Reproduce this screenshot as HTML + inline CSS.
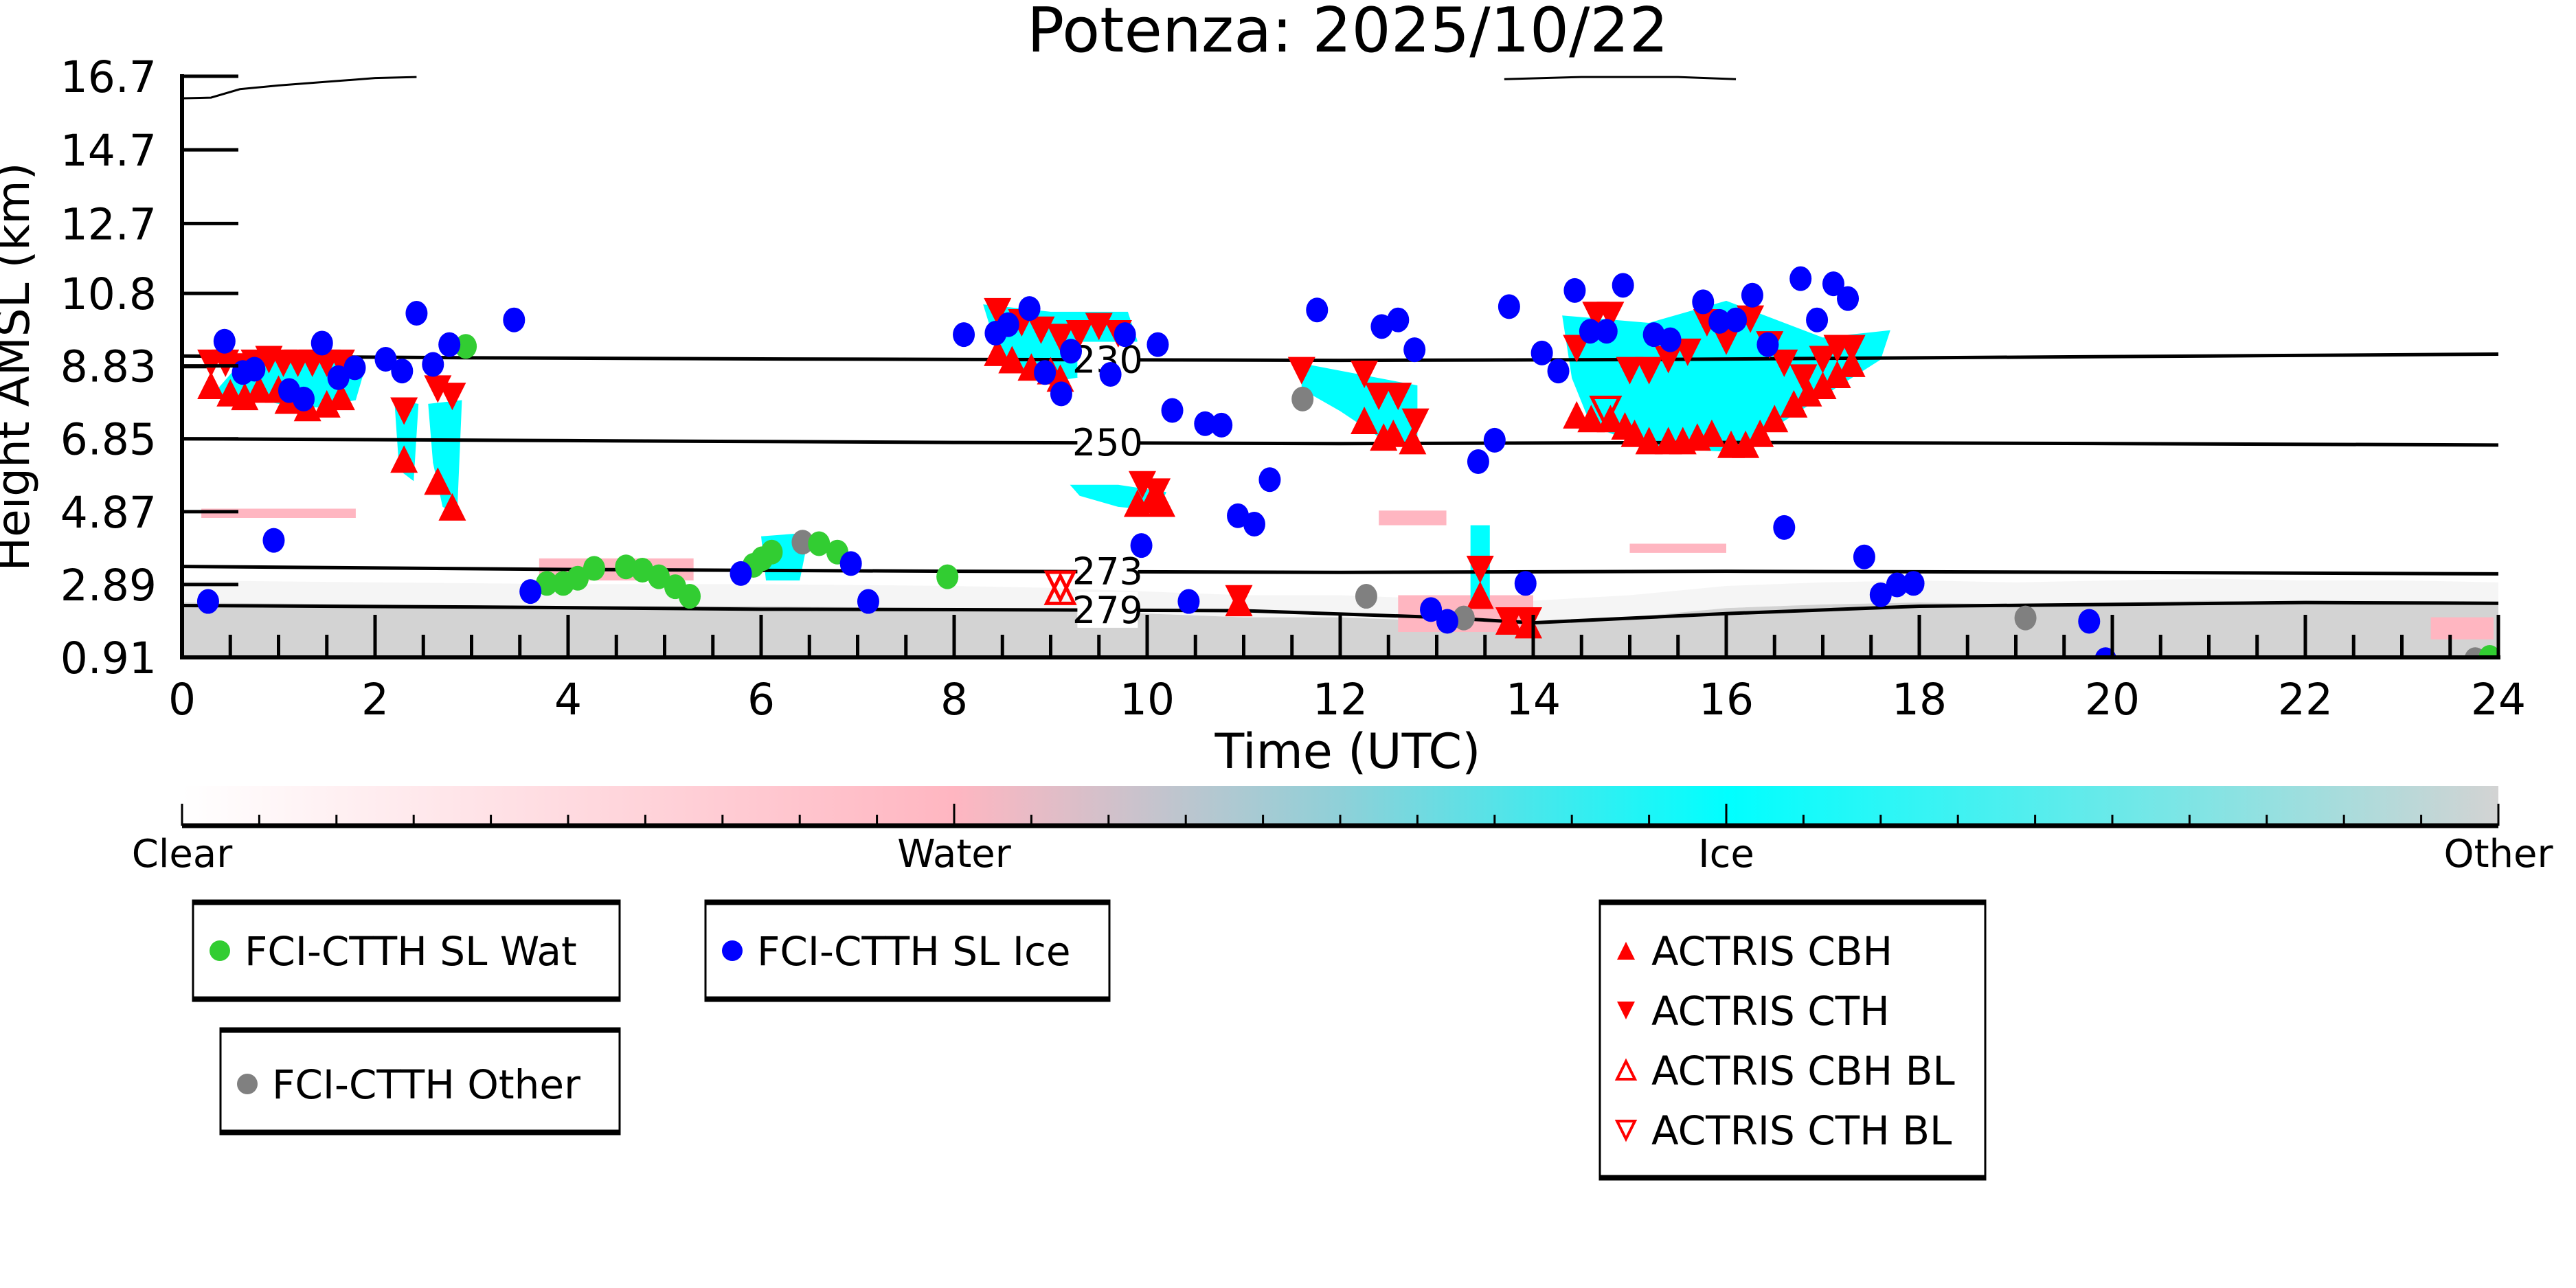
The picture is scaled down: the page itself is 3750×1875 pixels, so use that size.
<!DOCTYPE html>
<html><head><meta charset="utf-8"><style>
html,body{margin:0;padding:0;background:#fff;}
svg{display:block;font-family:"DejaVu Sans","Liberation Sans",sans-serif;}
</style></head><body>
<svg id="chart" width="3750" height="1875" viewBox="0 0 3750 1875" xmlns="http://www.w3.org/2000/svg">
<text x="1962" y="75" font-size="90" text-anchor="middle">Potenza: 2025/10/22</text>
<g id="plot"></g>
<g id="axes"></g>
<text x="1962" y="1118" font-size="70" text-anchor="middle">Time (UTC)</text>
<text x="0" y="0" font-size="66" text-anchor="middle" transform="translate(42,534) rotate(-90)">Height AMSL (km)</text>
<g id="cbar"></g>
<g id="legends"></g>
</svg>
<script>
// ---- data ----
const yTicks = [0.91, 2.89, 4.87, 6.85, 8.83, 10.8, 12.7, 14.7, 16.7];
const xTicks = [0, 2, 4, 6, 8, 10, 12, 14, 16, 18, 20, 22, 24];
const iceH = [0.27,0.44,0.63,0.75,1.11,1.26,1.45,1.62,1.79,2.11,2.28,2.43,2.60,2.77,3.44,3.61,0.95,5.79,7.11,6.93,8.10,8.43,8.56,8.78,8.94,9.11,9.21,9.62,9.77,9.94,10.11,10.26,10.43,10.60,10.77,10.94,11.11,11.27,11.76,12.43,12.60,12.77,12.94,13.11,13.60,13.43,13.75,13.92,14.09,14.26,14.43,14.59,14.76,14.93,15.25,15.42,15.76,15.93,16.10,16.27,16.43,16.60,16.77,16.94,17.11,17.26,17.43,17.60,17.77,17.94,19.76,19.93];
const iceKm = [2.43,9.50,8.65,8.74,8.16,7.93,9.45,8.51,8.78,9.01,8.69,10.26,8.87,9.41,10.08,2.70,4.09,3.19,2.43,3.46,9.68,9.72,9.95,10.39,8.65,8.07,9.23,8.60,9.68,3.95,9.41,7.62,2.43,7.26,7.22,4.76,4.53,5.74,10.35,9.90,10.08,9.27,2.21,1.89,6.81,6.23,10.44,2.92,9.18,8.69,10.88,9.77,9.77,11.02,9.68,9.54,10.57,10.04,10.08,10.75,9.41,4.44,11.20,10.08,11.06,10.66,3.64,2.61,2.88,2.92,1.89,0.85];
const watH = [2.94,3.78,3.95,4.10,4.27,4.60,4.77,4.94,5.11,5.26,5.92,6.01,6.11,6.60,6.79,7.93,23.91];
const watKm = [9.36,2.92,2.92,3.06,3.33,3.37,3.28,3.10,2.83,2.57,3.41,3.59,3.77,4.00,3.77,3.10,0.91];
const othH = [6.43,11.61,12.27,13.28,19.10,23.76];
const othKm = [4.04,7.93,2.57,1.98,1.98,0.85];
const cthH = [0.3,0.45,0.6,0.75,0.9,1.05,1.2,1.35,1.5,1.65,2.3,2.65,2.8,8.45,8.7,8.9,9.1,9.3,9.5,9.7,9.95,10.1,10.95,11.6,12.25,12.4,12.6,12.78,13.45,13.75,13.95,14.45,14.65,14.8,15.0,15.2,15.4,15.6,15.8,16.0,16.25,16.45,16.6,16.8,17.0,17.15,17.3];
const cthKm = [8.9,8.9,8.8,8.9,9.0,8.9,8.9,8.9,8.9,8.9,7.6,8.2,8.0,10.3,10.0,9.8,9.6,9.7,9.9,9.7,5.6,5.4,2.5,8.7,8.6,8.0,8.0,7.3,3.3,1.9,1.9,9.3,10.2,10.2,8.7,8.7,9.0,9.2,10.0,9.5,10.1,9.4,8.9,8.5,9.0,9.3,9.3];
const cbhH = [0.3,0.5,0.65,0.8,1.0,1.1,1.3,1.5,1.65,2.3,2.65,2.8,8.45,8.6,8.8,9.0,9.1,9.9,10.05,10.15,10.95,12.25,12.45,12.55,12.75,13.45,13.75,13.95,14.45,14.6,14.8,14.95,15.05,15.2,15.4,15.55,15.7,15.85,16.05,16.2,16.35,16.5,16.7,16.85,17.0,17.15,17.3];
const cbhKm = [8.3,8.1,8.0,8.2,8.2,7.9,7.7,7.8,8.0,6.3,5.7,5.0,9.2,9.0,8.8,8.7,8.5,5.1,5.2,5.1,2.4,7.35,6.9,7.0,6.8,2.6,1.9,1.8,7.5,7.4,7.4,7.2,7.0,6.8,6.8,6.8,6.9,7.0,6.7,6.7,7.0,7.4,7.8,8.1,8.3,8.6,8.9];
const cbhBlH = [9.1]; const cbhBlKm = [2.75];
const cthBlH = [9.1,14.75]; const cthBlKm = [2.85,7.6];
const c230H = [0,3,6,9,12,15,18,21,24]; const c230Km = [9.10,9.05,9.02,9.0,8.98,9.0,9.05,9.1,9.15];
const c250H = [0,4,8,12,16,20,24]; const c250Km = [6.85,6.8,6.75,6.72,6.75,6.72,6.68];
const c273H = [0,4,8,12,16,20,24]; const c273Km = [3.38,3.3,3.25,3.22,3.25,3.22,3.18];
const c279H = [0,3,6,9,11,13,14,16,18,20,22,24]; const c279Km = [2.32,2.28,2.22,2.2,2.18,2.0,1.85,2.1,2.3,2.35,2.4,2.38];
const tropH = [0,0.3,0.6,1.0,1.5,2.0,2.43]; const tropKm = [16.1,16.12,16.35,16.45,16.55,16.65,16.68];
const trop2H = [13.7,14.5,15.5,16.1]; const trop2Km = [16.62,16.68,16.68,16.62];
const groundH = [0,2,4,6,8,9,10,11,12,13,14,15,16,17,18,19,20,21,22,23,24];
const groundKm = [2.4,2.35,2.3,2.3,2.25,2.2,2.1,2.0,2.0,1.9,1.85,2.0,2.25,2.35,2.4,2.35,2.4,2.45,2.4,2.4,2.35];
const iceBlobs = [
 [[0.3,8.0],[0.6,8.9],[1.0,9.1],[1.5,9.0],[1.9,8.8],[1.8,7.9],[1.4,7.7],[1.0,7.8],[0.6,8.0]],
 [[2.2,7.9],[2.45,7.8],[2.4,5.7],[2.25,6.0]],
 [[2.55,7.8],[2.9,7.9],[2.85,4.8],[2.7,5.0],[2.6,6.2]],
 [[8.3,10.5],[9.0,10.3],[9.8,10.3],[9.9,9.5],[9.5,8.6],[9.0,8.4],[8.5,8.8]],
 [[9.2,5.6],[9.7,5.6],[10.2,5.4],[10.1,4.9],[9.7,5.0],[9.3,5.3]],
 [[6.0,4.2],[6.5,4.3],[6.4,3.0],[6.05,3.0]],
 [[11.6,8.9],[12.2,8.6],[12.8,8.3],[12.8,6.7],[12.4,6.9],[12.0,7.6],[11.6,8.2]],
 [[13.35,4.5],[13.55,4.5],[13.55,2.3],[13.35,2.3]],
 [[14.3,10.2],[15.2,10.0],[16.0,10.6],[17.0,9.6],[17.7,9.8],[17.6,9.0],[17.0,8.0],[16.4,7.0],[16.0,6.5],[15.2,6.6],[14.6,7.2],[14.4,8.5]]
];
const waterBlobs = [
 [[0.2,4.95],[1.8,4.95],[1.8,4.7],[0.2,4.7]],
 [[3.7,3.6],[5.3,3.6],[5.3,3.0],[3.7,3.0]],
 [[12.4,4.9],[13.1,4.9],[13.1,4.5],[12.4,4.5]],
 [[15.0,4.0],[16.0,4.0],[16.0,3.75],[15.0,3.75]],
 [[23.3,2.0],[23.95,2.0],[23.95,1.4],[23.3,1.4]],
 [[12.6,2.6],[14.0,2.6],[14.0,1.6],[12.6,1.6]]
];
const cbarLabels = ['Clear','Water','Ice','Other'];

// ---- scales ----
const X0=265, X1=3637, Y0=957, Y1=111, KM0=0.91, KM1=16.7;
const xs = h => X0 + (h/24)*(X1-X0);
const ys = k => Y0 - (k-KM0)/(KM1-KM0)*(Y0-Y1);
const NS='http://www.w3.org/2000/svg';
function mk(tag, attrs, parent){const e=document.createElementNS(NS,tag);for(const k in attrs)e.setAttribute(k,attrs[k]);parent.appendChild(e);return e;}
const plot=document.getElementById('plot'), axes=document.getElementById('axes');

const defs=mk('defs',{},plot);
const cp=mk('clipPath',{id:'clip'},defs);
mk('rect',{x:X0,y:Y1-5,width:X1-X0,height:Y0-Y1+5},cp);
const g=mk('g',{'clip-path':'url(#clip)'},plot);

let gp='M'+xs(0)+','+Y0;
groundH.forEach((h,i)=>{gp+=' L'+xs(h)+','+ys(groundKm[i]);});
gp+=' L'+xs(24)+','+Y0+' Z';
let ground=mk('path',{d:gp,fill:'#d3d3d3'},g);


let sp='M'+xs(0)+','+ys(2.4);
groundH.forEach((h,i)=>{sp+=' L'+xs(h)+','+ys(groundKm[i]+0.6);});
for(let i=groundH.length-1;i>=0;i--){sp+=' L'+xs(groundH[i])+','+ys(groundKm[i]);}
sp+=' Z';
let speck=mk('path',{d:sp,fill:'#e6e6e6',opacity:0.4},g);



function blob(pts,fill,name){
  const d='M'+pts.map(p=>xs(p[0])+','+ys(p[1])).join(' L')+' Z';
  const e=mk('path',{d:d,fill:fill},g);
  
  
}
waterBlobs.forEach(b=>blob(b,'#ffb6c1','water-cloud-region'));
iceBlobs.forEach(b=>blob(b,'#00ffff','ice-cloud-region'));

function line(H,K,name,w){
  const d='M'+H.map((h,i)=>xs(h)+','+ys(K[i])).join(' L');
  const e=mk('path',{d:d,fill:'none',stroke:'#000','stroke-width':w},g);
  
  
}
line(c230H,c230Km,'contour-230',5);
line(c250H,c250Km,'contour-250',5);
line(c273H,c273Km,'contour-273',5);
line(c279H,c279Km,'contour-279',5);
line(tropH,tropKm,'tropopause-line',3);
line(trop2H,trop2Km,'tropopause-line-2',3);
line([0,0.3],[8.8,8.8],'contour-230-short',4);

function clabel(txt,h,k,name){
  const x=xs(h), y=ys(k);
  mk('rect',{x:x-44,y:y-26,width:88,height:52,fill:'#fff'},g);
  const t=mk('text',{x:x,y:y+19,'font-size':54,'text-anchor':'middle'},g);
  t.textContent=txt;
  
  
}
clabel('230',9.59,9.0,'contour-label-230');
clabel('250',9.59,6.75,'contour-label-250');
clabel('273',9.59,3.25,'contour-label-273');
clabel('279',9.59,2.2,'contour-label-279');

function circles(H,K,color,name){
  H.forEach((h,i)=>{
    const c=mk('ellipse',{cx:xs(h),cy:ys(K[i]),rx:16,ry:18,fill:color},g);
    
    
  });
}
function tri(H,K,up,filled,name){
  H.forEach((h,i)=>{
    const x=xs(h),y=ys(K[i]),s=20;
    const pts= up ? `${x},${y-s} ${x-s},${y+s} ${x+s},${y+s}` : `${x},${y+s} ${x-s},${y-s} ${x+s},${y-s}`;
    const p=mk('polygon',{points:pts,fill:filled?'#ff0000':'none',stroke:'#ff0000','stroke-width':filled?0:5},g);
    
    
  });
}
tri(cthH,cthKm,false,true,'actris-cth-marker');
tri(cbhH,cbhKm,true,true,'actris-cbh-marker');
tri(cbhBlH,cbhBlKm,true,false,'actris-cbh-bl-marker');
tri(cthBlH,cthBlKm,false,false,'actris-cth-bl-marker');
circles(othH,othKm,'#808080','fci-other-point');
circles(watH,watKm,'#32cd32','fci-water-point');
circles(iceH,iceKm,'#0000ff','fci-ice-point');

mk('line',{x1:X0,y1:Y1-3,x2:X0,y2:Y0+3,stroke:'#000','stroke-width':6},axes);
mk('line',{x1:X0-3,y1:Y0,x2:X1+3,y2:Y0,stroke:'#000','stroke-width':6},axes);
yTicks.forEach(v=>{
  const y=ys(v);
  mk('line',{x1:X0,y1:y,x2:X0+82,y2:y,stroke:'#000','stroke-width':5},axes);
  const t=mk('text',{x:228,y:y+23,'font-size':63,'text-anchor':'end'},axes);
  t.textContent=String(v);
  
  
});
for(let h=0.5;h<24;h+=0.5){
  if(h%2===0) continue;
  const x=xs(h);
  mk('line',{x1:x,y1:Y0,x2:x,y2:Y0-33,stroke:'#000','stroke-width':5},axes);
}
xTicks.forEach(v=>{
  const x=xs(v);
  mk('line',{x1:x,y1:Y0,x2:x,y2:Y0-62,stroke:'#000','stroke-width':5},axes);
  const t=mk('text',{x:x,y:1040,'font-size':63,'text-anchor':'middle'},axes);
  t.textContent=String(v);
  
  
});

const cb=document.getElementById('cbar');
const gd=mk('linearGradient',{id:'cbg',x1:0,x2:1,y1:0,y2:0},defs);
[['0','#ffffff'],['0.333','#ffb6c1'],['0.5','#8fd0d8'],['0.667','#00ffff'],['1','#d3d3d3']].forEach(s=>mk('stop',{offset:s[0],'stop-color':s[1]},gd));
mk('rect',{x:X0,y:1144,width:X1-X0,height:56,fill:'url(#cbg)'},cb);
mk('line',{x1:X0,y1:1202,x2:X1,y2:1202,stroke:'#000','stroke-width':7},cb);
for(let i=0;i<=30;i++){
  const x=X0+i*(X1-X0)/30, major=(i%10===0);
  mk('line',{x1:x,y1:1202,x2:x,y2:major?1170:1186,stroke:'#000','stroke-width':3},cb);
}
cbarLabels.forEach((l,i)=>{
  const t=mk('text',{x:X0+i*(X1-X0)/3,y:1262,'font-size':56,'text-anchor':'middle'},cb);
  t.textContent=l;
  
  
});

const lg=document.getElementById('legends');
function box(x1,y1,x2,y2,name){
  const gg=mk('g',{},lg);
  
  
  mk('rect',{x:x1,y:y1,width:x2-x1,height:y2-y1,fill:'#fff',stroke:'#000','stroke-width':3},gg);
  mk('line',{x1:x1,y1:y1+3,x2:x2,y2:y1+3,stroke:'#000','stroke-width':7},gg);
  mk('line',{x1:x1,y1:y2-3,x2:x2,y2:y2-3,stroke:'#000','stroke-width':7},gg);
  return gg;
}
function ltext(gg,x,y,s,name){
  const t=mk('text',{x:x,y:y+21,'font-size':58},gg);
  t.textContent=s;
  
  
}
let b1=box(281,1311,902,1457,'legend-water');
mk('circle',{cx:320,cy:1384,r:15,fill:'#32cd32'},b1);
ltext(b1,356,1384,'FCI-CTTH SL Wat','legend-entry-water');
let b2=box(1027,1311,1615,1457,'legend-ice');
mk('circle',{cx:1066,cy:1384,r:15,fill:'#0000ff'},b2);
ltext(b2,1102,1384,'FCI-CTTH SL Ice','legend-entry-ice');
let b3=box(321,1497,902,1651,'legend-other');
mk('circle',{cx:360,cy:1578,r:15,fill:'#808080'},b3);
ltext(b3,396,1578,'FCI-CTTH Other','legend-entry-other');
let b4=box(2329,1311,2890,1717,'legend-actris');
const ent=[['ACTRIS CBH',true,true],['ACTRIS CTH',false,true],['ACTRIS CBH BL',true,false],['ACTRIS CTH BL',false,false]];
ent.forEach((e,i)=>{
  const y=1384+i*87, x=2367, s=13;
  const pts=e[1]?`${x},${y-s} ${x-s},${y+s} ${x+s},${y+s}`:`${x},${y+s} ${x-s},${y-s} ${x+s},${y-s}`;
  mk('polygon',{points:pts,fill:e[2]?'#f00':'none',stroke:'#f00','stroke-width':e[2]?0:4},b4);
  ltext(b4,2404,y,e[0],'legend-entry-actris');
});
</script>
</body></html>
